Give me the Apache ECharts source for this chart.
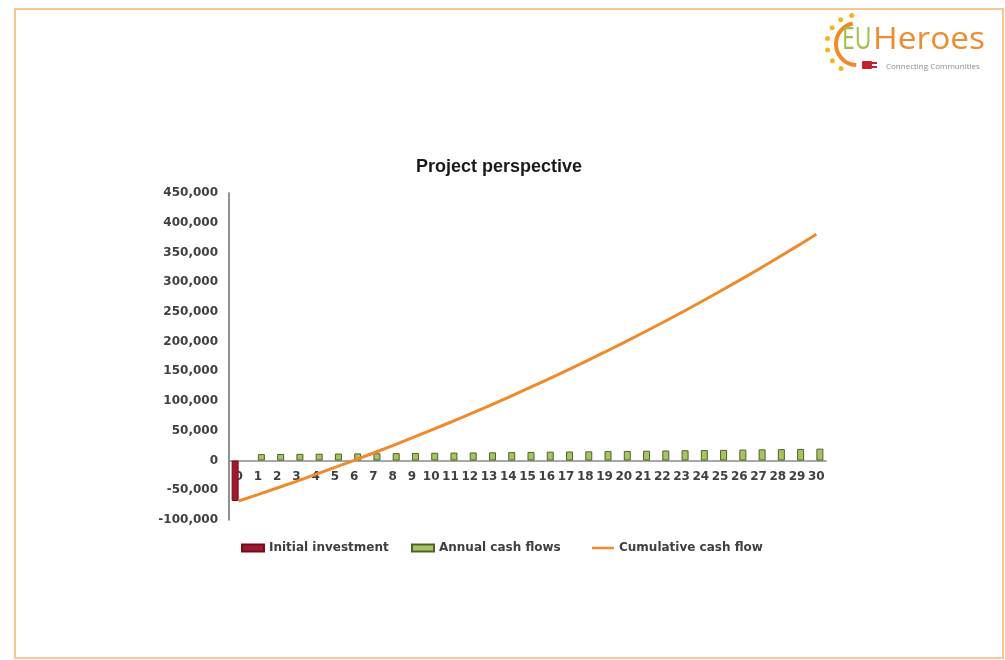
<!DOCTYPE html>
<html>
<head>
<meta charset="utf-8">
<script src="https://cdn.jsdelivr.net/npm/echarts@6/dist/echarts.min.js"></script>
<style>
html,body{margin:0;padding:0;background:#ffffff;}
#chart{width:1005px;height:660px;}
</style>
</head>
<body>
<div id="chart"></div>
<script>
const years = ['0','1','2','3','4','5','6','7','8','9','10','11','12','13','14','15','16','17','18','19','20','21','22','23','24','25','26','27','28','29','30'];
const initialInvestment = [-68000, null, null, null, null, null, null, null, null, null, null, null, null, null, null, null, null, null, null, null, null, null, null, null, null, null, null, null, null, null, null];
const annualCashFlows = [null, 10800, 11000, 11300, 11500, 11800, 12000, 12300, 12500, 12800, 13100, 13400, 13600, 13900, 14200, 14500, 14900, 15200, 15500, 15800, 16200, 16500, 16900, 17300, 17600, 18000, 18400, 18800, 19200, 19600, 20000];
const cumulativeCashFlow = [-68000, -57200, -46200, -34900, -23400, -11600, 400, 12700, 25200, 38000, 51100, 64400, 78100, 92000, 106300, 120800, 135700, 150800, 166400, 182200, 198400, 214900, 231800, 249000, 266700, 284700, 303100, 321800, 341000, 360600, 380600];
const seriesNames = ['Initial investment', 'Annual cash flows', 'Cumulative cash flow'];
const titleText = 'Project perspective';
const yMin = -100000, yMax = 450000, yStep = 50000;

const chart = echarts.init(document.getElementById('chart'), null, {renderer: 'canvas'});
const labelFont = {fontFamily: 'DejaVu Sans', fontWeight: 'bold', fontSize: 12, color: '#404040'};

const gridTop = 193, gridBottom = 140, chartH = 660;
const plotH = chartH - gridTop - gridBottom;
// pixel distance from bottom of plot to the zero line
const zeroOffset = plotH * (0 - yMin) / (yMax - yMin);

// sun rays for logo
const rayAngles = [122, 145, 168, 191, 214, 237, 260];
const rays = rayAngles.map(a => {
  const r = a * Math.PI / 180;
  return {
    type: 'circle',
    shape: {cx: 857 + 30 * Math.cos(r), cy: 44 + 29 * Math.sin(r), r: 2.5},
    style: {fill: '#f6b51e'}
  };
});

const option = {
  backgroundColor: '#ffffff',
  animation: false,
  title: {
    text: titleText,
    left: 411,
    top: 153,
    textStyle: {fontFamily: 'Liberation Sans', fontWeight: 'bold', fontSize: 18, color: '#1a1a1a'}
  },
  legend: [
    {data: [{name: seriesNames[0], icon: 'rect'}], left: 236, top: 537, itemWidth: 22, itemHeight: 7, textStyle: labelFont, selectedMode: false},
    {data: [{name: seriesNames[1], icon: 'rect'}], left: 406, top: 537, itemWidth: 22, itemHeight: 7, textStyle: labelFont, selectedMode: false},
    {data: [{name: seriesNames[2], icon: 'rect'}], left: 587, top: 537, itemWidth: 22, itemHeight: 2.5, textStyle: labelFont, selectedMode: false}
  ],
  grid: {left: 229, right: 179, top: gridTop, bottom: gridBottom, containLabel: false, outerBoundsMode: 'none'},
  xAxis: {
    type: 'category',
    data: years,
    boundaryGap: true,
    offset: -zeroOffset,
    axisLine: {onZero: false, lineStyle: {color: '#8a8a8a', width: 1.5}},
    axisTick: {show: false},
    axisLabel: Object.assign({interval: 0, margin: 10}, labelFont),
    splitLine: {show: false}
  },
  yAxis: {
    type: 'value',
    min: yMin,
    max: yMax,
    interval: yStep,
    axisLine: {show: true, lineStyle: {color: '#6e6e6e', width: 1.5}},
    axisTick: {show: false},
    splitLine: {show: false},
    axisLabel: Object.assign({margin: 11, formatter: v => v.toLocaleString('en-US')}, labelFont)
  },
  series: [
    {
      name: seriesNames[0],
      type: 'bar',
      data: initialInvestment,
      barWidth: 7,
      barGap: '0%',
      itemStyle: {color: '#a3192c', borderColor: '#6e0f1c', borderWidth: 1}
    },
    {
      name: seriesNames[1],
      type: 'bar',
      data: annualCashFlows,
      barWidth: 7,
      barGap: '0%',
      itemStyle: {color: '#a6c463', borderColor: '#4f6228', borderWidth: 1}
    },
    {
      name: seriesNames[2],
      type: 'line',
      data: cumulativeCashFlow,
      symbol: 'none',
      smooth: false,
      z: 5,
      lineStyle: {color: '#f08a2c', width: 3},
      itemStyle: {color: '#f08a2c'}
    }
  ],
  graphic: [
    {type: 'rect', shape: {x: 15, y: 9, width: 988, height: 649}, style: {fill: 'none', stroke: '#f6c793', lineWidth: 2}, silent: true},
    {type: 'arc', shape: {cx: 857, cy: 44, r: 21, startAngle: 92 * Math.PI / 180, endAngle: 258 * Math.PI / 180, clockwise: true}, style: {stroke: '#ef8a24', lineWidth: 4, fill: 'none'}},
    ...rays,
    {type: 'rect', shape: {x: 862, y: 61, width: 10, height: 8, r: 1}, style: {fill: '#c4212c'}},
    {type: 'rect', shape: {x: 872, y: 62, width: 5, height: 2}, style: {fill: '#c4212c'}},
    {type: 'rect', shape: {x: 872, y: 66, width: 5, height: 2}, style: {fill: '#c4212c'}},
    {type: 'text', x: 842, y: 25, scaleX: 0.74, style: {text: 'EU', font: '31px "Open Sans"', fill: '#9cc04b'}},
    {type: 'text', x: 873, y: 25, scaleX: 1.08, style: {text: 'Heroes', font: '31px "Open Sans"', fill: '#ec8d2f'}},
    {type: 'text', x: 886, y: 63, style: {text: 'Connecting Communities', font: '8px "Open Sans"', fill: '#8c8c8c'}}
  ]
};
chart.setOption(option);
</script>
</body>
</html>
